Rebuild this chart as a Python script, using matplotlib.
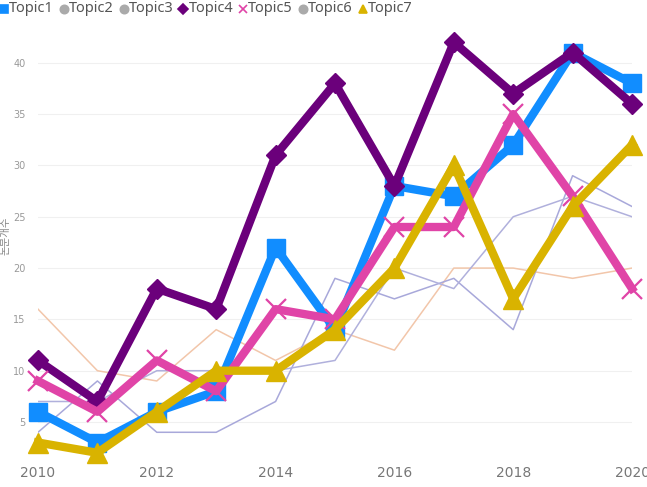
import numpy as np
import matplotlib.pyplot as plt
from matplotlib.lines import Line2D

years = [2010, 2011, 2012, 2013, 2014, 2015, 2016, 2017, 2018, 2019, 2020]
topic1 = [6, 3, 6, 8, 22, 14, 28, 27, 32, 41, 38]
topic2 = [4, 9, 4, 4, 7, 19, 17, 19, 14, 29, 26]
topic3 = [16, 10, 9, 14, 11, 14, 12, 20, 20, 19, 20]
topic4 = [11, 7, 18, 16, 31, 38, 28, 42, 37, 41, 36]
topic5 = [9, 6, 11, 8, 16, 15, 24, 24, 35, 27, 18]
topic6 = [7, 7, 10, 10, 10, 11, 20, 18, 25, 27, 25]
topic7 = [3, 2, 6, 10, 10, 14, 20, 30, 17, 26, 32]
legend_names = ['Topic1', 'Topic2', 'Topic3', 'Topic4', 'Topic5', 'Topic6', 'Topic7']
yticks = [5, 10, 15, 20, 25, 30, 35, 40]
xticks = [2010, 2012, 2014, 2016, 2018, 2020]

narrow = ['Liberation Sans Narrow', 'DejaVu Sans']

fig = plt.figure(figsize=(6.47, 4.87), dpi=100)
ax = fig.add_axes([38/647, 27/487, 594/647, 428/487])

# faded series
ax.plot(years, topic3, color='#F2C6AA', lw=1.1, zorder=2)
ax.plot(years, topic2, color='#A8A8DA', lw=1.1, zorder=2)
ax.plot(years, topic6, color='#B0B0DC', lw=1.1, zorder=2)

ax.plot(years, topic1, color='#118DFF', lw=6, marker='s', ms=13,
        zorder=3, clip_on=False)
ax.plot(years, topic4, color='#6B007B', lw=6, marker='D', ms=10,
        zorder=4, clip_on=False)
ax.plot(years, topic5, color='#E044A7', lw=6, marker='x', ms=14, mew=1.6,
        zorder=5, clip_on=False)
ax.plot(years, topic7, color='#D9B300', lw=6, marker='^', ms=14,
        zorder=6, clip_on=False)

ax.set_xlim(2010, 2020)
ax.set_ylim(1.3, 43)
ax.set_yticks(yticks)
ax.set_xticks(xticks)
ax.set_yticklabels([str(v) for v in yticks], family=narrow, fontsize=7, color='#999999')
ax.set_xticklabels([str(v) for v in xticks], family=narrow, fontsize=10, color='#777777')
ax.tick_params(length=0, pad=4)
ax.tick_params(axis='y', pad=9)
ax.grid(axis='y', color='#F0F0F0', lw=0.8)
ax.set_axisbelow(True)
for s in ax.spines.values():
    s.set_visible(False)

fig.text(6/647, 0.515, '논문개수', rotation=90, fontsize=7.5, color='#888888',
         family=['Noto Sans CJK KR', 'DejaVu Sans'], ha='center', va='center')
fig.text(0.505, -0.012, '연도', fontsize=8, color='#888888',
         family=['Noto Sans CJK KR', 'DejaVu Sans'], ha='center', va='center')

# legend drawn along the top
mk = [('s', '#118DFF'), ('o', '#AAAAAA'), ('o', '#AAAAAA'), ('D', '#6B007B'),
      ('x', '#E044A7'), ('o', '#AAAAAA'), ('^', '#D9B300')]
for i, name in enumerate(legend_names):
    x0 = 4 + i * 59.8
    m, c = mk[i]
    fig.add_artist(Line2D([x0 / 647], [1 - 9/487], marker=m, color=c, ms=6 if m != 'D' else 5,
                          mew=1.2, transform=fig.transFigure, ls='none'))
    fig.text((x0 + 5) / 647, 1 - 9/487, name, fontsize=10.5, color='#555555',
             family=['Noto Sans', 'DejaVu Sans'], va='center', ha='left')

fig.savefig('out.png', dpi=100)
